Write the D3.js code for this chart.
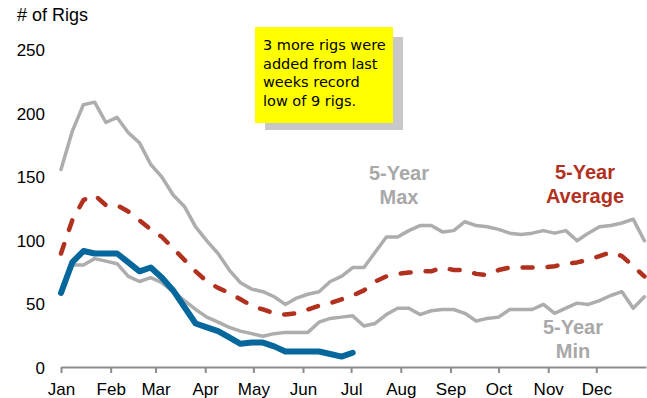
<!DOCTYPE html>
<html>
<head>
<meta charset="utf-8">
<script src="https://cdn.jsdelivr.net/npm/d3@7"></script>
<style>
  html, body { margin: 0; padding: 0; background: #fff; }
  svg { display: block; }
</style>
</head>
<body>
<svg id="chart" width="647" height="398"></svg>
<script>
// ---- data (weekly rig counts, week index 0..52) ----
const months = ["Jan","Feb","Mar","Apr","May","Jun","Jul","Aug","Sep","Oct","Nov","Dec"];
const yTicks = [0, 50, 100, 150, 200, 250];

const maxValues = [156,186,207,209,193,197,185,177,160,150,136,127,111,100,90,77,67,62,
  60,56,50,55,58,60,68,72,79,79,91,103,103,108,112,112,107,108,115,112,111,109,106,105,
  106,108,106,108,100,106,111,112,114,117,100];
const avgValues = [90,116,132,136,128,128,123,116,109,103,94,85,76,68,63,59,54,49,
  46,43,42,43,46,49,51,54,57,61,68,72,74,75,76,76,79,77,77,74,73,77,79,79,
  79,79,80,82,83,85,88,91,88,80,72];
const minValues = [60,81,81,86,84,82,72,68,71,67,60,53,46,40,36,32,29,27,
  25,27,28,28,28,36,39,40,41,33,35,42,47,47,42,45,46,46,43,37,39,40,46,46,
  46,50,43,47,51,50,53,57,60,47,56];
const currentValues = [59,83,92,90,90,90,83,76,79,71,61,48,35,32,29,24,19,20,
  20,17,13,13,13,13,11,9,12];

const seriesLabels = [
  { lines: ["5-Year", "Max"], color: "#a8a8a8", x: 399, y: 180 },
  { lines: ["5-Year", "Average"], color: "#b2301e", x: 585, y: 179 },
  { lines: ["5-Year", "Min"], color: "#a8a8a8", x: 573, y: 334 }
];
const noteLines = ["3 more rigs were", "added from last", "weeks record", "low of 9 rigs."];

// ---- scales ----
const svg = d3.select("#chart");
const yearStart = new Date(2021, 0, 1);
const yearEnd = new Date(2022, 0, 1);
const x = d3.scaleTime().domain([yearStart, yearEnd]).range([61, 646]);
const y = d3.scaleLinear().domain([0, 250]).range([368, 50]);
const weekDate = i => d3.timeDay.offset(yearStart, 7 * i);

// ---- y tick labels ----
svg.append("g").selectAll("text").data(yTicks).join("text")
  .attr("x", 45).attr("y", d => y(d)).attr("dy", "0.35em")
  .attr("text-anchor", "end")
  .attr("font-family", "Liberation Sans, Arial, sans-serif")
  .attr("font-size", 17).attr("fill", "#000")
  .text(d => d);

svg.append("text").attr("x", 17).attr("y", 21)
  .attr("font-family", "Liberation Sans, Arial, sans-serif")
  .attr("font-size", 18).attr("fill", "#000")
  .text("# of Rigs");

// ---- x axis ----
const monthDates = months.map((m, i) => new Date(2021, i, 1));
const xAxis = d3.axisBottom(x).tickValues(monthDates)
  .tickFormat((d, i) => months[i]).tickSize(6).tickPadding(10).tickSizeOuter(0);
const gx = svg.append("g").attr("transform", "translate(0,367)").call(xAxis);
gx.select(".domain").attr("stroke", "#8c8c8c").attr("stroke-width", 2);
gx.selectAll(".tick line").attr("stroke", "#8c8c8c").attr("stroke-width", 2);
gx.selectAll(".tick text").attr("font-family", "Liberation Sans, Arial, sans-serif")
  .attr("font-size", 17).attr("fill", "#000");

// ---- lines ----
const line = d3.line().x((d, i) => x(weekDate(i))).y(d => y(d));

function drawLine(values, color, width, dash) {
  const p = svg.append("path").datum(values)
    .attr("d", line).attr("fill", "none")
    .attr("stroke", color).attr("stroke-width", width)
    .attr("stroke-linejoin", "round").attr("stroke-linecap", "round");
  if (dash) p.attr("stroke-dasharray", dash);
}
drawLine(maxValues, "#adadad", 3.5);
drawLine(minValues, "#adadad", 3.5);
drawLine(avgValues, "#b2301e", 4.5, "10,15");
drawLine(currentValues, "#05679b", 6);

// ---- series labels ----
seriesLabels.forEach(s => {
  const t = svg.append("text").attr("text-anchor", "middle")
    .attr("font-family", "Liberation Sans, Arial, sans-serif")
    .attr("font-size", 20).attr("font-weight", "bold").attr("fill", s.color);
  s.lines.forEach((l, i) => t.append("tspan").attr("x", s.x).attr("y", s.y + i * 24).text(l));
});

// ---- annotation box ----
svg.append("rect").attr("x", 265).attr("y", 37).attr("width", 138).attr("height", 93).attr("fill", "#c8c8c8");
svg.append("rect").attr("x", 255).attr("y", 27).attr("width", 138).attr("height", 96).attr("fill", "#ffff00");
const note = svg.append("text")
  .attr("font-family", "Comic Sans MS, DejaVu Sans, sans-serif")
  .attr("font-size", 14.5).attr("fill", "#000");
noteLines.forEach((l, i) => note.append("tspan").attr("x", 263).attr("y", 50 + i * 18.5).text(l));
</script>
</body>
</html>
